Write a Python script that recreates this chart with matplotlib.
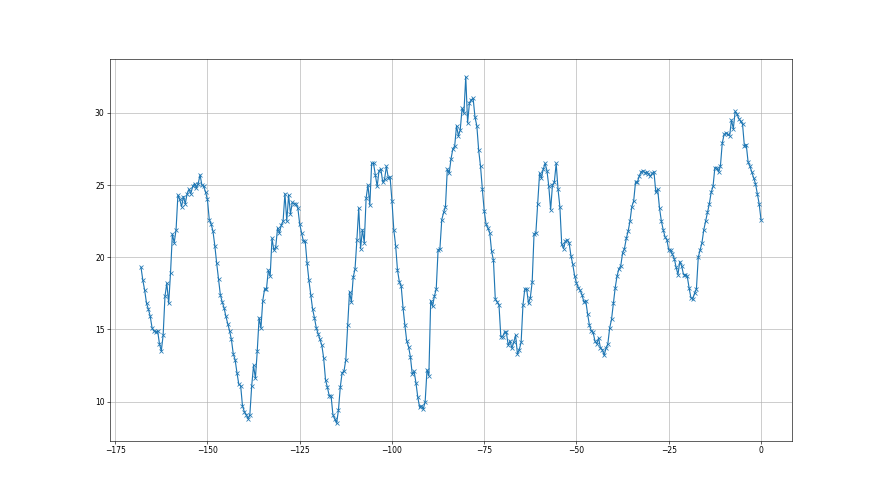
import numpy as np
import matplotlib
matplotlib.use("Agg")
import matplotlib.pyplot as plt

# values, in segments (step 0.5 on x, ending at 0)
seg1 = [19.3, 18.4, 17.7, 16.8, 16.4, 15.9, 15.1, 14.9, 14.8, 14.9, 14.0, 13.5, 14.6, 17.3, 18.2,
        16.8, 18.9, 21.6, 21.0, 21.9, 24.3, 24.0, 23.5, 24.2, 23.7, 24.4, 24.7, 24.4, 24.9, 25.1,
        24.8, 25.1, 25.7, 25.0, 24.9, 24.5, 24.0, 22.6, 22.3, 21.8, 20.8, 19.6, 18.5]
seg2 = [17.4, 16.9, 16.5, 15.9, 15.4, 14.9, 14.3, 13.3, 12.9, 12.0, 11.2, 11.1, 9.7, 9.3, 9.1,
        8.8, 9.1, 11.1, 12.5, 11.6, 13.5, 15.8, 15.1, 17.0, 17.8, 17.8, 19.1, 18.7, 21.3, 20.5,
        20.7, 22.0, 21.7, 22.2, 22.5, 24.4, 22.5, 24.3, 23.0, 23.8, 23.7, 23.7, 23.4, 22.3, 21.7, 21.1]
seg3 = [21.1, 19.6, 18.4, 17.4, 16.4, 15.8, 15.1, 14.7, 14.3, 13.9, 13.0, 11.5, 11.0, 10.4, 10.4,
        9.1, 8.8, 8.5, 9.4, 11.0, 12.0, 12.1, 12.9, 15.3, 17.6, 16.9, 18.6, 19.2, 21.2, 23.4,
        20.6, 21.9, 21.0, 24.1, 25.0, 23.6, 26.5, 26.5, 25.7, 24.9, 26.0, 26.1, 25.2, 25.4, 26.3, 25.5]
seg4 = [25.55, 23.9, 21.9, 20.8, 19.1, 18.3, 18.0, 16.5, 15.3, 14.2, 13.8, 13.1, 11.9, 12.1, 11.3,
        10.3, 9.6, 9.7, 9.5, 10.0, 12.2, 11.8, 17.0, 16.6, 17.3, 17.8, 20.5, 20.6, 22.6, 23.1,
        23.5, 26.1, 25.8, 26.8, 27.5, 27.7, 29.1, 28.4, 28.8, 30.3, 30.0, 32.5, 29.3, 30.7, 30.9, 31.0]
seg5 = [29.7, 29.1, 27.4, 26.3, 24.7, 23.2, 22.3, 22.0, 21.7, 20.4, 19.8, 17.1, 16.9, 16.7, 14.5,
        14.5, 14.8, 14.8, 13.9, 14.2, 13.7, 14.1, 14.6, 13.3, 13.6, 14.1, 16.7, 17.8, 17.8, 16.8,
        17.2, 18.3, 21.6, 21.7, 23.7, 25.8, 25.5, 26.1, 26.5, 26.0, 24.9, 23.3, 25.0, 25.2, 26.5, 24.7]
seg6 = [23.5, 20.9, 20.6, 21.1, 21.2, 21.0, 20.1, 19.5, 18.7, 18.2, 17.9, 17.7, 17.4, 16.9, 17.0,
        16.1, 15.3, 14.9, 14.8, 14.2, 14.0, 14.4, 13.7, 13.6, 13.2, 13.7, 14.0, 15.1, 15.7, 16.8,
        17.9, 18.7, 19.2, 19.4, 20.3, 20.6, 21.3, 21.8, 22.5, 23.5, 23.9, 25.2, 25.2, 25.6, 25.9, 26.0]
seg7 = [25.85, 25.9, 25.75, 25.6, 25.8, 25.9, 24.5, 24.7, 23.4, 22.5, 21.9, 21.4, 21.2, 20.5, 20.5,
        20.2, 19.9, 19.3, 18.8, 19.7, 19.4, 18.8, 18.8, 18.7, 17.9, 17.2, 17.1, 17.5, 17.8, 20.0,
        20.5, 21.0, 21.9, 22.5, 23.1, 23.7, 24.5, 24.9, 26.2, 26.2, 25.9, 26.3]
seg8 = [27.9, 28.5, 28.6, 28.5, 28.4, 29.5, 28.9, 30.1, 29.9, 29.6, 29.4, 29.2, 27.7, 27.8, 26.6,
        26.3, 25.9, 25.5, 25.1, 24.4, 23.7, 22.6]

step = 0.5

y = np.array(seg1 + seg2 + seg3 + seg4 + seg5 + seg6 + seg7 + seg8)
n = len(y)
x = (np.arange(n) - (n - 1)) * step

fig, ax = plt.subplots(figsize=(16, 9), dpi=55)
ax.plot(x, y, marker='x', color='#1f77b4', linewidth=1.5, markersize=6)
ax.grid(True)
fig.savefig("out.png", dpi=55)
